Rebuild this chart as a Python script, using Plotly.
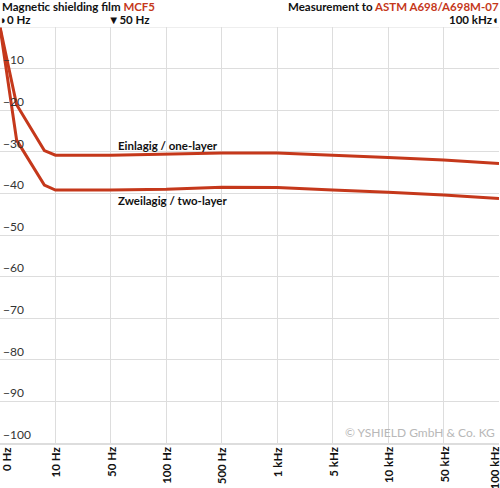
import plotly.graph_objects as go

# category positions on the x axis (0 = 0 Hz ... 9 = 100 kHz)
freq_labels = ["0 Hz", "10 Hz", "50 Hz", "100 Hz", "500 Hz", "1 kHz", "5 kHz", "10 kHz", "50 kHz", "100 kHz"]
freq_pos = [0, 0.3, 0.8, 1, 2, 3, 4, 5, 6, 7, 8, 9]

# attenuation in dB
one_layer = [0, -18.7, -29.7, -30.8, -30.8, -30.5, -30.3, -30.3, -30.8, -31.4, -32.0, -32.8]
two_layer = [0, -27.2, -38.0, -39.2, -39.2, -39.0, -38.5, -38.6, -39.2, -39.7, -40.4, -41.2]

y_ticks = [-10, -20, -30, -40, -50, -60, -70, -80, -90, -100]

red = "#c5381b"
font = "Lato"

fig = go.Figure()
fig.add_trace(go.Scatter(x=freq_pos, y=one_layer, mode="lines", line=dict(color=red, width=3),
                         name="one-layer", cliponaxis=False))
fig.add_trace(go.Scatter(x=freq_pos, y=two_layer, mode="lines", line=dict(color=red, width=3),
                         name="two-layer", cliponaxis=False))

fig.update_layout(
    width=500, height=488,
    margin=dict(l=0, r=1, t=27, b=45, autoexpand=False),
    paper_bgcolor="white", plot_bgcolor="white",
    showlegend=False,
    font=dict(family=font, color="#222"),
)
fig.update_xaxes(
    range=[0, 9], tickmode="array", tickvals=list(range(len(freq_labels))),
    showticklabels=False, automargin=False,
    showgrid=True, gridcolor="#dddddd", gridwidth=1, zeroline=False,
    showline=True, linecolor="#dddddd", linewidth=2, ticks="",
)
fig.update_yaxes(
    range=[-100, 0], tickmode="array", tickvals=y_ticks, automargin=False,
    ticklabelposition="inside top", tickfont=dict(size=12, color="#333"),
    showgrid=True, gridcolor="#dddddd", gridwidth=1, zeroline=False,
    showline=False, ticks="",
)
# top border line at 0 dB
fig.add_hline(y=0, line=dict(color="#dddddd", width=1))

# rotated frequency labels under the axis, kept inside the picture at both ends
for i, lab in enumerate(freq_labels):
    shift = 6 if i == 0 else (-5 if i == len(freq_labels) - 1 else 0)
    fig.add_annotation(x=i, y=0, xref="x", yref="paper", xanchor="center", yanchor="top",
                       yshift=-2, xshift=shift, textangle=-90, showarrow=False,
                       text="<b>%s</b>" % lab, font=dict(size=11.5, color="#111"))

annotations = [
    dict(x=0, y=1, xref="paper", yref="paper", xanchor="left", yanchor="bottom", yshift=12,
         text="<b>Magnetic shielding film <span style='color:%s'>MCF5</span></b>" % red,
         font=dict(size=11.5, color="#111")),
    dict(x=1, y=1, xref="paper", yref="paper", xanchor="right", yanchor="bottom", yshift=12, xshift=2,
         text="<b>Measurement to <span style='color:%s'>ASTM A698/A698M-07</span></b>" % red,
         font=dict(size=11.5, color="#111")),
    dict(x=0, y=1, xref="x", yref="paper", xanchor="left", yanchor="bottom", yshift=-1, xshift=-2,
         text="<b>◗0 Hz</b>", font=dict(size=11.5, color="#111")),
    dict(x=2, y=1, xref="x", yref="paper", xanchor="left", yanchor="bottom", yshift=-1, xshift=-5,
         text="<b>▼50 Hz</b>", font=dict(size=11.5, color="#111")),
    dict(x=9, y=1, xref="x", yref="paper", xanchor="right", yanchor="bottom", yshift=-1, xshift=2,
         text="<b>100 kHz◖</b>", font=dict(size=11.5, color="#111")),
    dict(x=2.09, y=-28.4, xref="x", yref="y", xanchor="left", yanchor="middle",
         text="<b>Einlagig / one-layer</b>", font=dict(size=11.5, color="#111")),
    dict(x=2.09, y=-41.6, xref="x", yref="y", xanchor="left", yanchor="middle",
         text="<b>Zweilagig / two-layer</b>", font=dict(size=11.5, color="#111")),
    dict(x=1, y=0, xref="paper", yref="paper", xanchor="right", yanchor="bottom", xshift=-2, yshift=1,
         text="© YSHIELD GmbH & Co. KG", font=dict(size=12, color="#b8b8b8")),
]
for a in annotations:
    fig.add_annotation(showarrow=False, **a)

# the page body has a default margin; drop it so the figure fills the window
fig.write_html("out.html", config={"displayModeBar": False},
               post_script="document.body.style.margin='0';")
